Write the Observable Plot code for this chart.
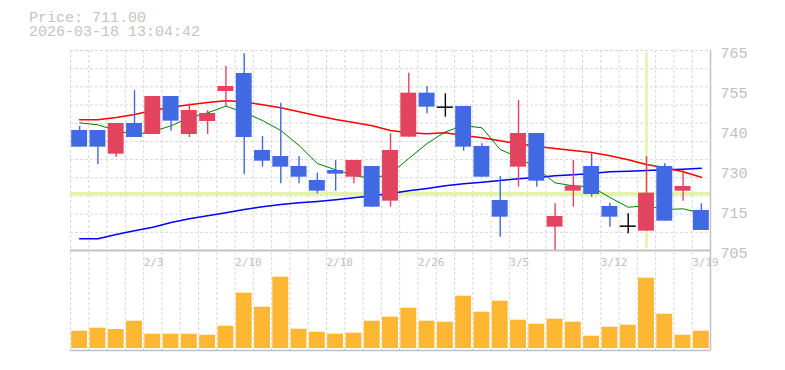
<!DOCTYPE html>
<html><head><meta charset="utf-8">
<script src="https://cdn.jsdelivr.net/npm/d3@7"></script>
<script src="https://cdn.jsdelivr.net/npm/@observablehq/plot@0.6"></script>
<style>
body{margin:0;background:#fff;}
#wrap{position:relative;width:785px;height:370px;overflow:hidden;background:#fff;}
#wrap svg{position:absolute;left:0;top:0;}
#title{position:absolute;left:29px;top:12px;font-family:"Liberation Mono",monospace;font-size:15px;line-height:14px;color:#c4c4c4;white-space:pre;}
</style></head><body>
<div id="wrap"><div id="title"></div></div>
<script>
const titlePrice = "Price: 711.00";
const titleTime = "2026-03-18 13:04:42";

const dates = ["1/28","1/29","1/30","2/2","2/3","2/4","2/5","2/6","2/9","2/10",
  "2/12","2/13","2/16","2/17","2/18","2/19","2/20","2/24","2/25","2/26",
  "2/27","3/2","3/3","3/4","3/5","3/6","3/9","3/10","3/11","3/12",
  "3/13","3/16","3/17","3/18","3/19"];
const open  = [741,741,733.9,743.1,739.8,751.2,739.8,743.7,752.7,758.1,
  735,733.2,730.2,726,729,727,730.2,719.8,739,752.2,
  748,748.2,736.2,720,730,740.1,712,722.8,730.2,718.2,
  712.3,710.8,730.2,722.8,717];
const high  = [742.2,741,743.1,753,751.2,751.2,749,747,760.2,764,
  739.2,749.2,733.2,728.2,732,732,730.2,740,758.2,754.2,
  752,748.2,737,727.2,750,740.1,719,732,734.2,719.2,
  716,733.2,731,729,719];
const low   = [736,730.8,733,738.9,739.8,740.8,738.9,739.8,748.2,727.8,
  730,725,725,722,722.8,725,718,718,739,746,
  745,734.8,727,709,724,724,705,718,721,712,
  710,710.8,713.8,719.8,711];
const close = [736,736,743.1,738.9,751.2,743.8,747,746.1,754.2,738.9,
  731.8,730,727,722.8,727.9,732,718,735,752.2,748,
  748,736,727,715,740.1,725.8,715.2,724.3,721.8,715,
  712.3,722.2,713.8,724.2,711];
const volume = [173,203,190,273,143,143,143,133,223,553,
  413,713,193,163,143,153,273,313,403,273,
  263,523,363,473,283,243,293,263,123,213,
  233,703,343,133,173];
const ma5  = [743.3,742.7,741,739.7,740.7,742.4,744.9,746.3,748.3,746.4,
  744,741,736.5,731.1,729.2,727.5,726.6,728,732.6,737.1,
  740.6,742.5,741.8,735.3,732.9,729.6,725.3,724.4,724.1,720.9,
  718,718.4,717.3,717.5,716.2];
const ma25 = [744.2,744.2,744.9,745.8,747,748,748.7,749.4,749.9,749.6,
  748.7,747.8,746.6,745.4,744.3,743.4,742.4,741,740.3,740,
  740.3,739.5,738.8,737.9,737,736.2,735.6,735,734.4,733.4,
  732.2,730.8,729.8,728.6,727];
const ma75 = [708.5,708.5,709.8,710.9,712,713.4,714.5,715.4,716.3,717.3,
  718.1,718.8,719.3,719.7,720.2,720.8,721.4,722.1,722.9,723.6,
  724.4,725,725.5,726,726.5,726.9,727.4,727.7,728.1,728.6,
  728.8,729,729.2,729.4,729.7];
const priceTicks = [705,717,729,741,753,765];
const priceTickLabels = ["705","715","730","740","755","765"];
const crosshairIndex = 31;
const crosshairPrice = 722;

document.getElementById("title").textContent = titlePrice + "\n" + titleTime;

const upColor = "#e2445f", downColor = "#4169e1", dojiColor = "#000000";
const gridColor = "#d8d8d8", frameColor = "#c0c0c0", labelColor = "#c0c0c0";
const idx = d3.range(dates.length);
const candles = idx.map(i => ({i, o: open[i], h: high[i], l: low[i], c: close[i],
  color: close[i] > open[i] ? upColor : close[i] < open[i] ? downColor : dojiColor}));
const xDomain = [-0.5, dates.length - 0.5];
const half = 0.435;
const gridX = d3.range(dates.length + 1).map(k => k - 0.5);
const gridY = d3.range(12).map(k => 705 + k * 60 / 11);
const labelIdx = idx.filter(i => i % 5 === 4);

const price = Plot.plot({
  width: 785, height: 370,
  marginLeft: 70, marginRight: 75, marginTop: 50, marginBottom: 120,
  x: {domain: xDomain, axis: null},
  y: {domain: [705, 765], axis: null},
  color: {type: "identity"},
  style: {background: "transparent", maxWidth: "none", overflow: "visible"},
  marks: [
    Plot.ruleY(gridY, {stroke: gridColor, strokeDasharray: "3,2"}),
    Plot.ruleX(gridX, {stroke: gridColor, strokeDasharray: "3,2"}),
    Plot.ruleY([crosshairPrice], {x1: () => xDomain[0], x2: () => xDomain[1], stroke: "#e3f4a8", strokeWidth: 3.5}),
    Plot.ruleX([crosshairIndex], {y1: () => 705.6, y2: () => 764.4, stroke: "#e3f4a8", strokeWidth: 2.5}),
    Plot.ruleY([705], {stroke: frameColor, strokeWidth: 1.5}),
    Plot.ruleX([xDomain[1]], {stroke: frameColor, strokeWidth: 1.5}),
    Plot.line(idx, {x: d => d, y: d => ma75[d], stroke: "#0000ff", strokeWidth: 1.5}),
    Plot.line(idx, {x: d => d, y: d => ma25[d], stroke: "#ff0000", strokeWidth: 1.5}),
    Plot.line(idx, {x: d => d, y: d => ma5[d], stroke: "#008000", strokeWidth: 1}),
    Plot.ruleX(candles, {x: "i", y1: "l", y2: "h", stroke: "color", strokeWidth: 1.4}),
    Plot.rect(candles.filter(d => d.o !== d.c), {x1: d => d.i - half, x2: d => d.i + half, y1: "o", y2: "c", fill: "color"}),
    Plot.ruleY(candles.filter(d => d.o === d.c), {x1: d => d.i - half, x2: d => d.i + half, y: "o", stroke: "color", strokeWidth: 1.5}),
    Plot.text(priceTicks, {x: () => xDomain[1], y: d => d, text: (d, i) => priceTickLabels[i],
      textAnchor: "start", dx: 10, dy: 3, fill: labelColor, fontSize: 15, fontFamily: "Liberation Mono"})
  ]
});

const vol = Plot.plot({
  width: 785, height: 370,
  marginLeft: 70, marginRight: 75, marginTop: 250, marginBottom: 20,
  x: {domain: xDomain, axis: null},
  y: {domain: [-20, 980], axis: null},
  style: {background: "transparent", maxWidth: "none", overflow: "visible"},
  marks: [
    Plot.ruleX(gridX, {y1: () => -20, y2: () => 980, stroke: gridColor, strokeDasharray: "3,2"}),
    Plot.rect(idx, {x1: d => d - half, x2: d => d + half, y1: () => 0, y2: d => volume[d], fill: "#fdb733"}),
    Plot.ruleY([-20, 980], {x1: () => xDomain[0], x2: () => xDomain[1], stroke: frameColor, strokeWidth: 1.5}),
    Plot.ruleX([xDomain[1]], {y1: () => -20, y2: () => 980, stroke: frameColor, strokeWidth: 1.5}),
    Plot.text(labelIdx, {x: d => d - 0.5, y: () => 980, text: d => dates[d], textAnchor: "start",
      dy: 12, fill: labelColor, fontSize: 11, fontFamily: "DejaVu Sans Mono"})
  ]
});

const wrap = document.getElementById("wrap");
wrap.insertBefore(vol, wrap.firstChild);
wrap.insertBefore(price, wrap.firstChild);
</script>
</body></html>
